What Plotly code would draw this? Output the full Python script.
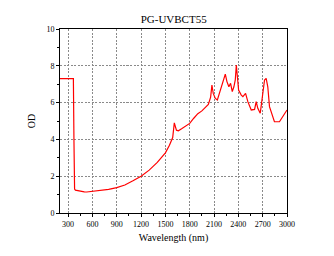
import plotly.graph_objects as go

wavelength = [200, 300, 365, 372, 380, 390, 400, 450, 500, 530, 600, 700, 800, 900, 1000, 1100,
              1200, 1300, 1400, 1500, 1550, 1590, 1600, 1610, 1636, 1660, 1700, 1750, 1800,
              1850, 1900, 1950, 2000, 2030, 2058, 2074, 2090, 2116, 2141, 2181, 2210, 2239,
              2259, 2283, 2304, 2325, 2345, 2362, 2375, 2387, 2403, 2436, 2456, 2489, 2517,
              2559, 2600, 2620, 2640, 2670, 2694, 2723, 2743, 2763, 2784, 2825, 2845, 2907,
              2948, 2989, 3000]
od = [7.3, 7.3, 7.3, 4.0, 1.3, 1.24, 1.23, 1.2, 1.15, 1.14, 1.17, 1.22, 1.28, 1.38, 1.52, 1.75,
      2.0, 2.33, 2.75, 3.27, 3.68, 4.1, 4.4, 4.9, 4.5, 4.47, 4.58, 4.72, 4.87,
      5.15, 5.4, 5.55, 5.75, 5.9, 6.3, 6.95, 6.5, 6.23, 6.14, 6.68, 7.13, 7.55,
      7.14, 6.86, 7.05, 6.6, 6.86, 7.23, 8.04, 7.4, 6.68, 6.41, 6.32, 6.5, 6.05,
      5.6, 5.63, 6.05, 5.69, 5.42, 6.14, 7.23, 7.32, 6.86, 5.78, 5.23, 4.96, 4.96,
      5.23, 5.5, 5.6]

x_ticks = [300, 600, 900, 1200, 1500, 1800, 2100, 2400, 2700, 3000]
y_ticks = [0, 2, 4, 6, 8, 10]

fig = go.Figure()
fig.add_trace(go.Scatter(x=wavelength, y=od, mode="lines",
                         line=dict(color="#ff0000", width=1.2), showlegend=False))

font = "Liberation Serif, Times New Roman, serif"
axis_common = dict(showline=True, linecolor="black", linewidth=1, mirror=True,
                   ticks="outside", ticklen=3, tickcolor="black",
                   showgrid=True, gridcolor="#8a8a8a", griddash="2px,1.5px", gridwidth=0.8,
                   zeroline=False, tickfont=dict(family=font, size=8, color="black"),
                   minor=dict(ticks="outside", ticklen=2, tickcolor="black", showgrid=False))

fig.update_layout(
    width=334, height=256,
    margin=dict(l=60, r=47, t=29, b=43),
    paper_bgcolor="white", plot_bgcolor="white",
    title=dict(text="PG-UVBCT55", x=0.52, xanchor="center", y=0.925, yanchor="middle",
               font=dict(family=font, size=11, color="black")),
    xaxis=dict(range=[200, 3000], tickvals=x_ticks,
               title=dict(text="Wavelength (nm)", font=dict(family=font, size=10, color="black"),
                          standoff=6),
               **axis_common),
    yaxis=dict(range=[0, 10], tickvals=y_ticks,
               title=dict(text="OD", font=dict(family=font, size=10, color="black"), standoff=8),
               **axis_common),
)
fig.update_xaxes(minor=dict(dtick=150, tick0=0))
fig.update_yaxes(minor=dict(dtick=1, tick0=0))

fig.write_html("out.html")
